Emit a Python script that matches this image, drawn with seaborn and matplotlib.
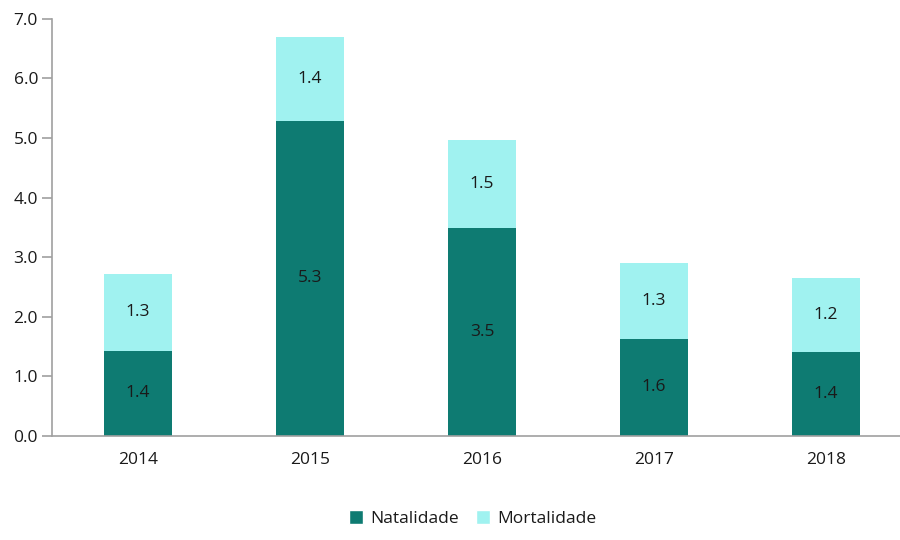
import matplotlib
matplotlib.use("Agg")
import matplotlib.pyplot as plt
import seaborn as sns
import pandas as pd
from matplotlib.patches import Patch
from matplotlib.ticker import FixedLocator, MultipleLocator

years = ["2014", "2015", "2016", "2017", "2018"]
natalidade = [1.43, 5.29, 3.49, 1.63, 1.41]
mortalidade = [1.29, 1.41, 1.48, 1.27, 1.24]
nat_labels = ["1.4", "5.3", "3.5", "1.6", "1.4"]
mort_labels = ["1.3", "1.4", "1.5", "1.3", "1.2"]

dark = "#0e7b72"
light = "#a0f2f0"
axis_grey = "#a0a0a0"
text_col = "#1a1a1a"
fs = 12.5

sns.set_style("white")
plt.rcParams["font.family"] = ["Open Sans", "DejaVu Sans"]

df = pd.DataFrame({"ano": years, "nat": natalidade, "mort": mortalidade})
df["total"] = df["nat"] + df["mort"]

fig = plt.figure(figsize=(9, 5.4), dpi=100)
ax = fig.add_axes([52 / 900, 0.193, 860 / 900, 0.772])

sns.barplot(data=df, x="ano", y="total", color=light, width=0.4, saturation=1,
            linewidth=0, edgecolor="none", ax=ax)
sns.barplot(data=df, x="ano", y="nat", color=dark, width=0.4, saturation=1,
            linewidth=0, edgecolor="none", ax=ax)

for i, (n, m) in enumerate(zip(natalidade, mortalidade)):
    ax.text(i, n / 2, nat_labels[i], ha="center", va="center", fontsize=fs, color=text_col)
    ax.text(i, n + m / 2, mort_labels[i], ha="center", va="center", fontsize=fs, color=text_col)

ax.set_xlim(-0.5, 4.5)
ax.set_ylim(0, 7)
ax.yaxis.set_major_locator(MultipleLocator(1))
ax.set_yticklabels([f"{v:.1f}" for v in ax.get_yticks()])
ax.set_xlabel("")
ax.set_ylabel("")

# category boundary ticks on x axis
ax.xaxis.set_minor_locator(FixedLocator([0.5, 1.5, 2.5, 3.5]))
ax.tick_params(axis="x", which="major", length=0, pad=12, labelsize=fs, labelcolor=text_col)
ax.tick_params(axis="x", which="minor", length=7, width=1.2, color=axis_grey, direction="out")
ax.tick_params(axis="y", which="major", length=7, width=1.2, color=axis_grey, direction="out",
               labelsize=fs, labelcolor=text_col, pad=3, left=True)

for s in ["top", "right"]:
    ax.spines[s].set_visible(False)
for s in ["left", "bottom"]:
    ax.spines[s].set_color(axis_grey)
    ax.spines[s].set_linewidth(1.2)

handles = [Patch(facecolor=dark, label="Natalidade"), Patch(facecolor=light, label="Mortalidade")]
fig.legend(handles=handles, loc="lower center", bbox_to_anchor=(0.525, -0.005), ncol=2, frameon=False,
           fontsize=fs, handlelength=0.8, handleheight=0.8, handletextpad=0.4, columnspacing=1.0,
           labelcolor=text_col)

fig.savefig("out.png", dpi=100)
